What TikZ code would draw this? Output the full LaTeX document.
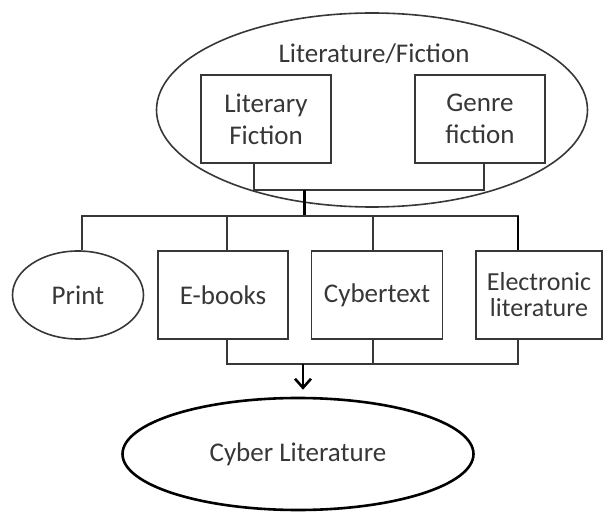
\documentclass[tikz,border=0pt]{standalone}
\usepackage{fontspec}
\setmainfont{Carlito}
\usetikzlibrary{shapes.geometric,arrows.meta}
\definecolor{ink}{RGB}{55,55,55}
\tikzstyle{box}=[draw=ink,line width=1.6pt,rectangle,minimum width=130pt,minimum height=88pt,inner sep=2pt,align=center,text=ink,font=\fontsize{27}{32}\selectfont]
\tikzstyle{oval}=[draw=ink,line width=1.6pt,ellipse,inner sep=0pt,text=ink,font=\fontsize{27}{32}\selectfont]
\tikzstyle{link}=[draw=ink,line width=1.6pt]
\tikzstyle{trunk}=[draw=black,line width=3.5pt]

\begin{document}
\begin{tikzpicture}[x=1pt,y=-1pt]
  \useasboundingbox (0,0) rectangle (603,513);

  %% Literature/Fiction group
  \draw (372,110) node[oval,minimum width=431pt,minimum height=194pt] (LitFic) {};
  \draw (374,54) node[text=ink,font=\fontsize{27}{32}\selectfont] (LitFicTitle) {Literature/Fiction};
  \draw (266,119) node[box] (Literary) {Literary\\Fiction};
  \draw (480,119) node[box] (Genre) {Genre\\fiction};

  %% Forms
  \draw (78,295) node[oval,minimum width=131pt,minimum height=88pt] (Print) {Print};
  \draw (223,295) node[box] (Ebooks) {E-books};
  \draw (377,295) node[box,minimum width=131pt] (Cybertext) {Cybertext};
  \draw (539,295) node[box,minimum width=126pt,font=\fontsize{26}{26}\selectfont] (Elec) {Electronic\\literature};

  %% Result
  \draw (298,454) node[oval,draw=black,line width=2.6pt,minimum width=351pt,minimum height=112pt] (Cyber) {Cyber Literature};

  %% Joints
  \coordinate (J1) at (304,190);
  \coordinate (J2) at (304,216);
  \coordinate (J3) at (303,364);

  \draw[link] ([xshift=-12pt]Literary.south) |- (J1) -| ([xshift=4pt]Genre.south);
  \draw[trunk,line width=3pt] (J1) -- (J2);
  \draw[link] ([xshift=4pt]Print.north) |- (J2) -| ([xshift=-21pt]Elec.north);
  \draw[link] ([xshift=4pt]Ebooks.north) -- ([xshift=4pt]Ebooks.north |- J2);
  \draw[link] ([xshift=-4pt]Cybertext.north) -- ([xshift=-4pt]Cybertext.north |- J2);
  \draw[trunk,line width=2.5pt] ([xshift=-21pt]Elec.north) -- ([xshift=-21pt]Elec.north |- J2);

  \draw[link] ([xshift=4pt]Ebooks.south) |- (J3) -| ([xshift=-21pt]Elec.south);
  \draw[link] ([xshift=-4pt]Cybertext.south) -- ([xshift=-4pt]Cybertext.south |- J3);
  \draw[-{Straight Barb[length=9pt,width=16pt,line width=2.6pt]},draw=black,line width=2.6pt,shorten >=7pt] (J3) -- (J3 |- Cyber.north);
\end{tikzpicture}
\end{document}
